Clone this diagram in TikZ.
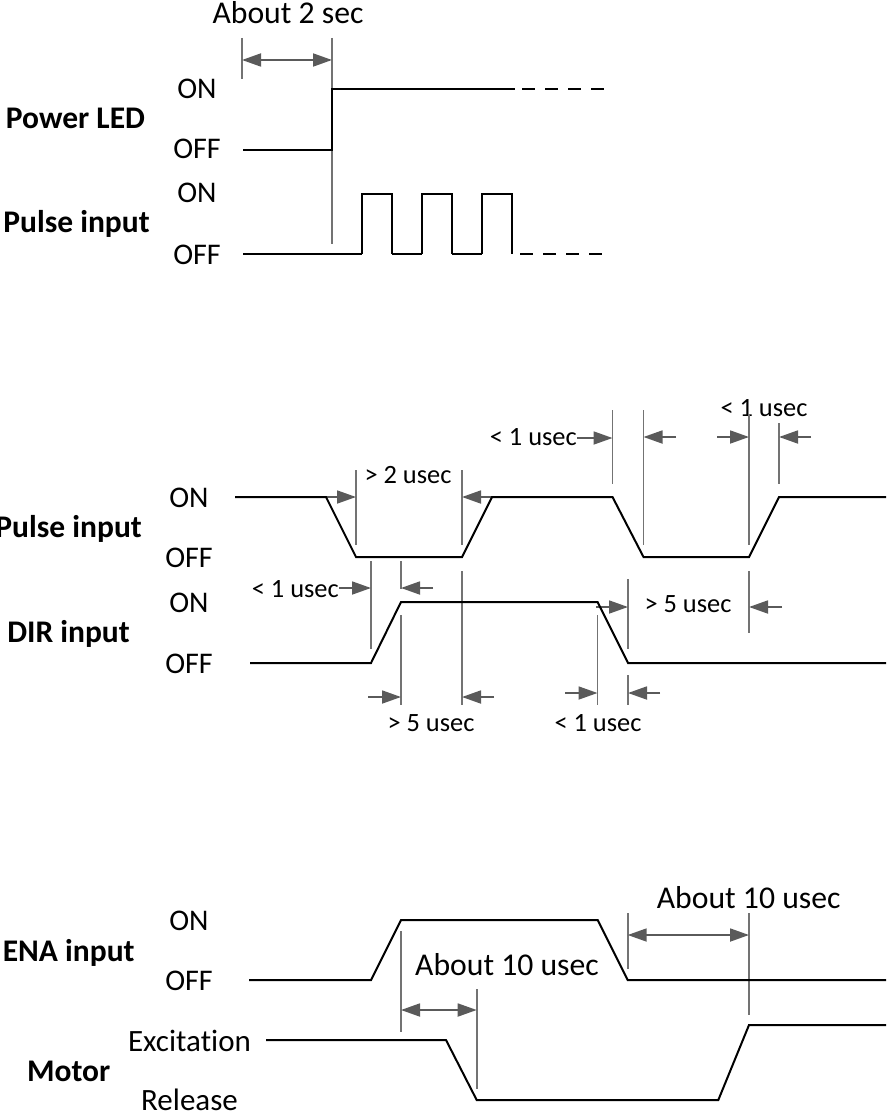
\documentclass[tikz,border=0pt]{standalone}
\usepackage{fontspec}
\setmainfont[Ligatures=NoCommon]{Carlito}
\usetikzlibrary{arrows.meta}
\definecolor{guidegray}{HTML}{737373}
\definecolor{arrowgray}{HTML}{5A5A5A}
\tikzset{
  sig/.style={black, line width=2pt},
  guide/.style={guidegray, line width=1.8pt},
  dimarrow/.style={arrowgray, line width=1.8pt, -{Triangle[length=19pt,width=13pt]}},
  dimboth/.style={arrowgray, line width=1.8pt, {Triangle[length=19pt,width=13pt]}-{Triangle[length=19pt,width=13pt]}},
  lvl/.style={anchor=base, inner sep=0pt, font=\fontsize{30}{36}\selectfont},
  state/.style={anchor=base, inner sep=0pt, font=\fontsize{31}{37}\selectfont},
  signame/.style={anchor=base, inner sep=0pt, font=\fontsize{31.5}{38}\selectfont\bfseries},
  about/.style={anchor=base, inner sep=0pt, font=\fontsize{31.7}{38}\selectfont},
  tlabel/.style={anchor=base, inner sep=0pt, font=\fontsize{26.4}{32}\selectfont}
}
\begin{document}
\begin{tikzpicture}[x=1pt,y=-1pt]
\useasboundingbox (0,0) rectangle (886,1115);

% power on
\node[about] (about2) at (288,24) {About 2 sec};
\node[lvl] (ledon) at (197,99) {ON};
\node[signame] (led) at (75.5,129) {Power LED};
\node[lvl] (ledoff) at (197,159) {OFF};
\node[lvl] (pulon) at (197,203) {ON};
\node[signame] (pul) at (76.5,233) {Pulse input};
\node[lvl] (puloff) at (197,264) {OFF};
\draw[guide] (242,38) -- (242,79);
\draw[guide] (332,38) -- (332,244);
\draw[dimboth] (242,60) -- (332,60);
\draw[sig] (243,150) -- (332,150) -- (332,89) -- (515,89);
\draw[sig, dash pattern=on 13pt off 10pt] (522,89) -- (607,89);
\draw[sig] (243,254) -- (362,254);
\foreach \x in {362,422,482} {
  \draw[sig] (\x,254) -- (\x,194) -- (\x+30,194) -- (\x+30,254);
  \ifnum\x<482 \draw[sig] (\x+30,254) -- (\x+60,254); \fi
}
\draw[sig, dash pattern=on 13pt off 10pt] (520,254) -- (603,254);

% pulse / dir
\node[lvl] (p2on) at (189,507) {ON};
\node[signame, anchor=base east] (p2) at (142,537) {Pulse input};
\node[lvl] (p2off) at (189,567) {OFF};
\node[lvl] (diron) at (189,612) {ON};
\node[signame] (dir) at (68.5,642) {DIR input};
\node[lvl] (diroff) at (189,673) {OFF};
\node[tlabel] (gt2) at (408,483) {> 2 usec};
\node[tlabel, anchor=base east] (lt1a) at (577,445) {< 1 usec};
\node[tlabel] (lt1b) at (764,416) {< 1 usec};
\node[tlabel, anchor=base east] (lt1c) at (339,597) {< 1 usec};
\node[tlabel] (gt5a) at (688,612) {> 5 usec};
\node[tlabel] (gt5b) at (431,731) {> 5 usec};
\node[tlabel] (lt1d) at (598,731) {< 1 usec};
\foreach \x/\a/\b in {356/470/545, 462/470/545, 612.5/410/484, 643.5/410/545,
    749/414/545, 779/423/484, 371/561/649, 401/561/589, 401/615/705,
    462/571/705, 597.5/615/705, 628/579/649, 628/675/705, 749/571/633}
  \draw[guide] (\x,\a) -- (\x,\b);
\foreach \a/\b/\y in {326/356/497, 492/462/497, 577/612.5/438, 676/643.5/437,
    717/749/437, 811/779/437, 339/371/588, 433/401/588, 368/401/697,
    494/462/697, 596/628/607, 782/749/607, 565/597.5/693, 660/628/693}
  \draw[dimarrow] (\a,\y) -- (\b,\y);
\draw[sig] (235,497) -- (326,497) -- (356,557) -- (462,557) -- (492,497)
  -- (612.5,497) -- (643.5,557) -- (749,557) -- (779,497) -- (886,497);
\draw[sig] (250,663) -- (371,663) -- (401,602) -- (597.5,602) -- (628,663) -- (886,663);

% ena / motor
\node[lvl] (enaon) at (189,930) {ON};
\node[signame] (ena) at (68.7,961) {ENA input};
\node[lvl] (enaoff) at (189,990) {OFF};
\node[state] (excit) at (189.5,1051) {Excitation};
\node[signame] (mot) at (68.7,1081) {Motor};
\node[state] (rel) at (189.5,1110) {Release};
\node[about] (about10a) at (748.7,908) {About 10 usec};
\node[about] (about10b) at (507,975) {About 10 usec};
\foreach \x/\a/\b in {401/931/1032, 627.7/913/969, 749/913/1015, 476.7/989/1089}
  \draw[guide] (\x,\a) -- (\x,\b);
\draw[dimboth] (627.7,935) -- (749,935);
\draw[dimboth] (401,1010) -- (476.7,1010);
\draw[sig] (249,980) -- (371,980) -- (401,920) -- (597.7,920) -- (627.7,980) -- (886,980);
\draw[sig] (266,1040) -- (446,1040) -- (476.7,1100) -- (718.3,1100) -- (749,1025) -- (886,1025);
\end{tikzpicture}
\end{document}
